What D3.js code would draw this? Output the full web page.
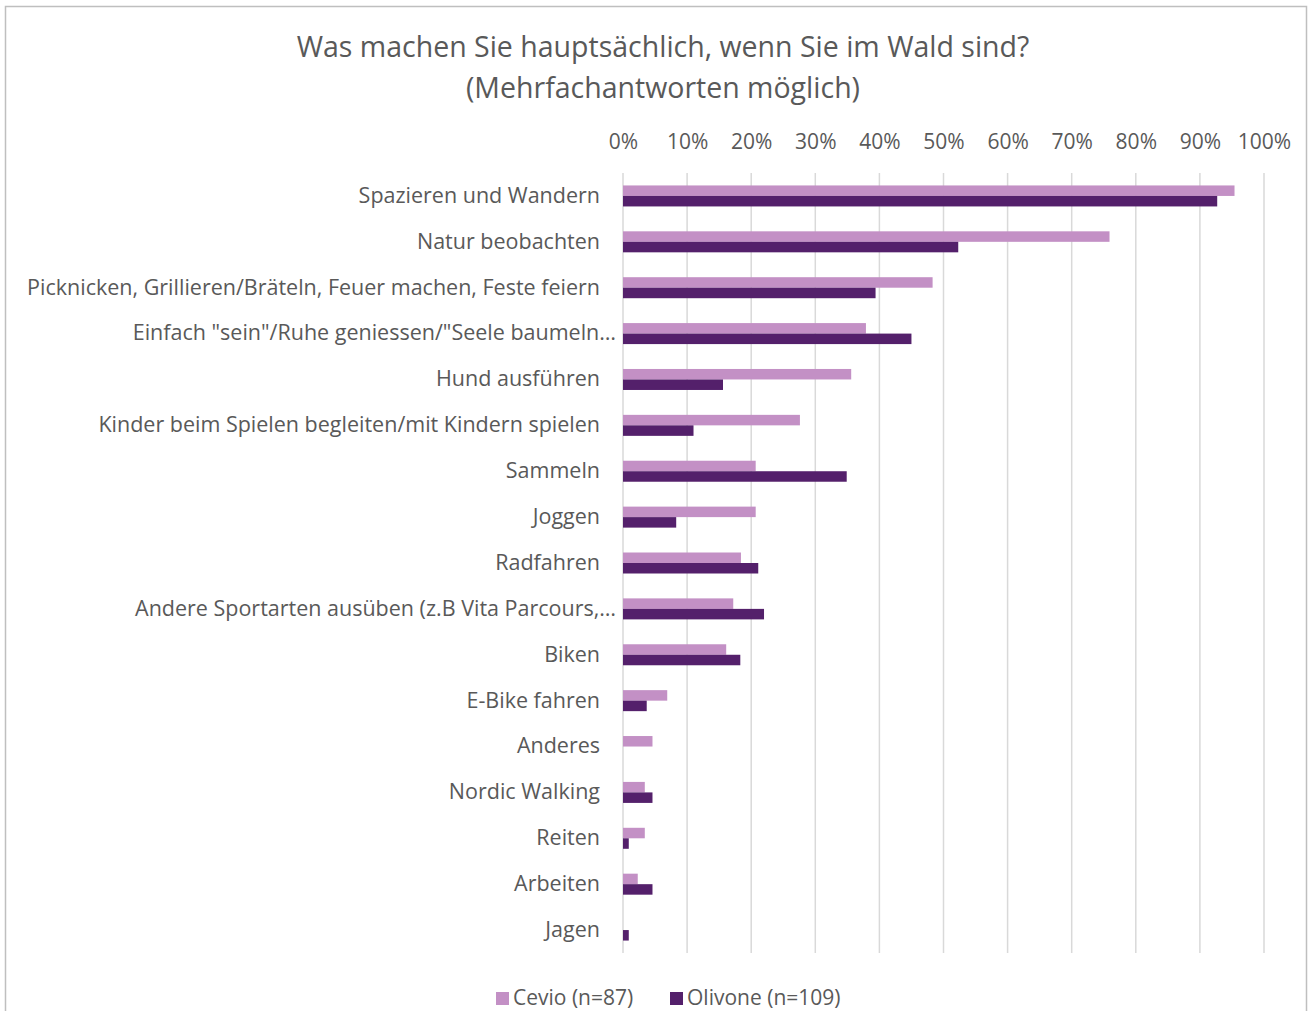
<!DOCTYPE html>
<html><head><meta charset="utf-8">
<script src="https://cdn.jsdelivr.net/npm/d3@7"></script>
<style>body{margin:0;background:#fff}</style>
</head><body>
<svg id="c" width="1314" height="1011"></svg>
<script>
const categories = [
  "Spazieren und Wandern",
  "Natur beobachten",
  "Picknicken, Grillieren/Bräteln, Feuer machen, Feste feiern",
  "Einfach \"sein\"/Ruhe geniessen/\"Seele baumeln…",
  "Hund ausführen",
  "Kinder beim Spielen begleiten/mit Kindern spielen",
  "Sammeln",
  "Joggen",
  "Radfahren",
  "Andere Sportarten ausüben (z.B Vita Parcours,…",
  "Biken",
  "E-Bike fahren",
  "Anderes",
  "Nordic Walking",
  "Reiten",
  "Arbeiten",
  "Jagen"
];
const seriesNames = ["Cevio (n=87)", "Olivone (n=109)"];
const cevio   = [95.4, 75.9, 48.3, 37.9, 35.6, 27.6, 20.7, 20.7, 18.4, 17.2, 16.1, 6.9, 4.6, 3.4, 3.4, 2.3, 0];
const olivone = [92.7, 52.3, 39.4, 45.0, 15.6, 11.0, 34.9, 8.3, 21.1, 22.0, 18.3, 3.7, 0, 4.6, 0.9, 4.6, 0.9];
const tickValues = [0,10,20,30,40,50,60,70,80,90,100];
const colors = ["#c390c5", "#54206b"];

const svg = d3.select("#c");
const FONT = "'Open Sans', sans-serif";
const txt = "#595959";

svg.append("rect").attr("x",5.5).attr("y",6.5).attr("width",1301).attr("height",1020)
  .attr("fill","none").attr("stroke","#bfbfbf").attr("stroke-width",1.5);

const x = d3.scaleLinear().domain([0,100]).range([623,1264]);
const y = d3.scaleBand().domain(categories).range([173,953]);
const yi = d3.scaleBand().domain(seriesNames).range([0,21]);

svg.append("text").attr("x",663).attr("y",57).attr("text-anchor","middle")
  .attr("font-family",FONT).attr("font-size",28.5).attr("fill",txt)
  .text("Was machen Sie hauptsächlich, wenn Sie im Wald sind?");
svg.append("text").attr("x",663).attr("y",98).attr("text-anchor","middle")
  .attr("font-family",FONT).attr("font-size",28.5).attr("fill",txt)
  .text("(Mehrfachantworten möglich)");

// grid
svg.append("g").selectAll("line").data(tickValues).join("line")
  .attr("x1",d=>x(d)).attr("x2",d=>x(d)).attr("y1",173).attr("y2",953)
  .attr("stroke","#d9d9d9").attr("stroke-width",1.5);

// top axis labels
const ax = svg.append("g").attr("transform","translate(0,149)")
  .call(d3.axisTop(x).tickValues(tickValues).tickFormat(d=>d+"%").tickSize(0).tickPadding(0));
ax.select(".domain").remove();
ax.selectAll("text").attr("font-family",FONT).attr("font-size",21).attr("fill",txt);

// category labels
const ay = svg.append("g").attr("transform","translate(600,0)")
  .call(d3.axisLeft(y).tickSize(0).tickPadding(0));
ay.select(".domain").remove();
ay.selectAll("text").attr("font-family",FONT).attr("font-size",21.5).attr("fill",txt).attr("dy","0.32em")
  .attr("x",d=>d.endsWith("…") ? 16 : 0);

const data = categories.map((c,i)=>({c, vals:[cevio[i], olivone[i]]}));
const off = (y.bandwidth()-21)/2;
const g = svg.append("g").selectAll("g").data(data).join("g")
  .attr("transform",d=>`translate(0,${y(d.c)+off})`);
g.selectAll("rect").data(d=>d.vals.map((v,k)=>({v,k}))).join("rect")
  .attr("x",x(0)).attr("y",d=>yi(seriesNames[d.k]))
  .attr("width",d=>x(d.v)-x(0)).attr("height",yi.bandwidth())
  .attr("fill",d=>colors[d.k]);

// legend
const lg = svg.append("g").attr("transform","translate(496,998)");
const lx = [0, 174];
seriesNames.forEach((s,k)=>{
  lg.append("rect").attr("x",lx[k]).attr("y",-6).attr("width",13).attr("height",13).attr("fill",colors[k]);
  lg.append("text").attr("x",lx[k]+17).attr("y",0).attr("dy","0.35em")
    .attr("font-family",FONT).attr("font-size",21).attr("fill",txt).text(s);
});
</script>
</body></html>
